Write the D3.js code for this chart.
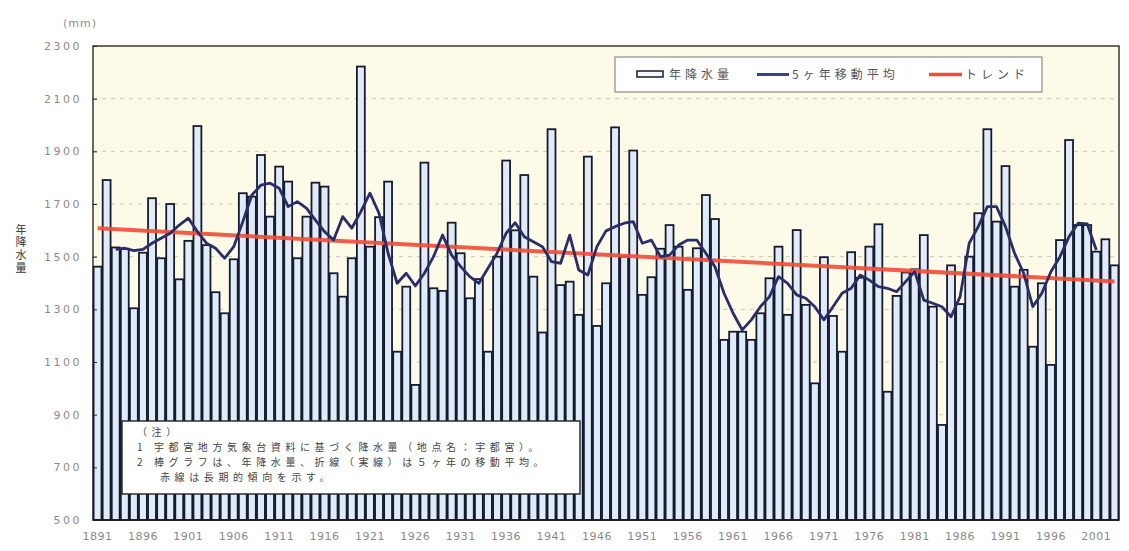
<!DOCTYPE html>
<html><head><meta charset="utf-8">
<script src="https://cdn.jsdelivr.net/npm/d3@7"></script>
<style>
html,body{margin:0;padding:0;background:#fff;}
svg{display:block;}
</style></head><body>
<svg id="chart" width="1129" height="551"></svg>
<script>
// ---- data ----
const years = [1891,1892,1893,1894,1895,1896,1897,1898,1899,1900,
1901,1902,1903,1904,1905,1906,1907,1908,1909,1910,
1911,1912,1913,1914,1915,1916,1917,1918,1919,1920,
1921,1922,1923,1924,1925,1926,1927,1928,1929,1930,
1931,1932,1933,1934,1935,1936,1937,1938,1939,1940,
1941,1942,1943,1944,1945,1946,1947,1948,1949,1950,
1951,1952,1953,1954,1955,1956,1957,1958,1959,1960,
1961,1962,1963,1964,1965,1966,1967,1968,1969,1970,
1971,1972,1973,1974,1975,1976,1977,1978,1979,1980,
1981,1982,1983,1984,1985,1986,1987,1988,1989,1990,
1991,1992,1993,1994,1995,1996,1997,1998,1999,2000,
2001,2002,2003];

// annual precipitation (mm)
const precipitation = [1462,1791,1535,1530,1304,1515,1722,1494,1700,1414,
1560,1996,1544,1365,1285,1490,1741,1728,1886,1652,
1842,1785,1494,1652,1781,1766,1437,1348,1494,2222,
1538,1650,1785,1139,1386,1013,1857,1380,1370,1629,
1513,1342,1415,1139,1500,1865,1600,1810,1424,1212,
1984,1392,1405,1279,1880,1237,1399,1991,1500,1903,
1355,1422,1530,1620,1538,1374,1532,1734,1643,1184,
1215,1215,1184,1285,1418,1538,1279,1601,1317,1019,
1498,1275,1139,1517,1420,1538,1623,987,1351,1440,
1452,1582,1310,861,1467,1320,1500,1665,1984,1633,
1844,1386,1450,1158,1399,1089,1563,1943,1620,1620,
1519,1566,1467];

// 5-year moving average (mm); null where not drawn
const movingAverage = [null,null,1528,1532,1523,1528,1551,1570,1589,1620,
1646,1595,1551,1532,1494,1538,1633,1734,1772,1779,
1760,1690,1709,1684,1639,1595,1563,1652,1608,1671,
1741,1665,1513,1399,1437,1389,1437,1500,1582,1506,
1462,1424,1399,1456,1513,1589,1629,1576,1557,1538,
1481,1475,1582,1449,1430,1538,1598,1614,1627,1633,
1551,1563,1500,1506,1544,1563,1563,1513,1462,1361,
1285,1222,1260,1310,1348,1424,1399,1355,1342,1310,
1260,1310,1361,1380,1430,1411,1386,1380,1367,1405,
1443,1335,1323,1310,1272,1348,1551,1614,1690,1690,
1614,1513,1437,1310,1361,1443,1500,1576,1627,1624,
1525,null,null];

const trendYears = [1891, 2003];
const trendValues = [1608, 1406];

const xTickLabels = ["1891","1896","1901","1906","1911","1916","1921","1926","1931","1936","1941","1946","1951","1956","1961","1966","1971","1976","1981","1986","1991","1996","2001"];
const yTicks = [500,700,900,1100,1300,1500,1700,1900,2100,2300];
const gridTicks = [700,900,1100,1300,1500,1700,1900,2100];

const legendLabels = ["年降水量","5ヶ年移動平均","トレンド"];
const unitLabel = "(mm)";
const yTitle = "年降水量";
const noteLines = ["（注）",
  "1 宇都宮地方気象台資料に基づく降水量（地点名：宇都宮）。",
  "2 棒グラフは、年降水量、折線（実線）は５ヶ年の移動平均。",
  "赤線は長期的傾向を示す。"];

// ---- layout ----
const L = 93, R = 1119, T = 46, B = 520;
const svg = d3.select("#chart");
const numFont = "'DejaVu Sans', sans-serif";
const jpFont = "'Noto Sans CJK JP', sans-serif";

const x = d3.scaleBand().domain(years).range([L, R]).paddingInner(0.13).paddingOuter(0.065);
const y = d3.scaleLinear().domain([500, 2300]).range([B, T]);
const cx = yr => x(yr) + x.bandwidth() / 2;

// plot background
svg.append("rect").attr("x", L).attr("y", T).attr("width", R - L).attr("height", B - T)
  .attr("fill", "#fdfbe8");

// grid
svg.append("g").selectAll("line").data(gridTicks).join("line")
  .attr("x1", L).attr("x2", R).attr("y1", d => y(d)).attr("y2", d => y(d))
  .attr("stroke", "#c9c7b6").attr("stroke-width", 1).attr("stroke-dasharray", "4,5");

// bars
svg.append("g").selectAll("rect").data(years.map((yr, i) => ({yr, v: precipitation[i]}))).join("rect")
  .attr("x", d => x(d.yr)).attr("width", x.bandwidth())
  .attr("y", d => y(d.v)).attr("height", d => B - y(d.v))
  .attr("fill", "#e0ebf7").attr("stroke", "#141b30").attr("stroke-width", 1.8);

// trend
const trendData = trendYears.map((yr, i) => ({yr, v: trendValues[i]}));
svg.append("path").datum(trendData)
  .attr("d", d3.line().x(d => cx(d.yr)).y(d => y(d.v)))
  .attr("fill", "none").attr("stroke", "#ef4f3b").attr("stroke-width", 4).attr("stroke-opacity", 0.92);

// moving average
const maData = years.map((yr, i) => ({yr, v: movingAverage[i]}));
svg.append("path").datum(maData)
  .attr("d", d3.line().defined(d => d.v != null).x(d => cx(d.yr)).y(d => y(d.v)))
  .attr("fill", "none").attr("stroke", "#2a2d6a").attr("stroke-width", 2.8)
  .attr("stroke-linejoin", "round");

// frame
svg.append("rect").attr("x", L).attr("y", T).attr("width", R - L).attr("height", B - T)
  .attr("fill", "none").attr("stroke", "#1a1a1a").attr("stroke-width", 1.3);

// y axis
const yAxis = svg.append("g").attr("transform", `translate(${L},0)`)
  .call(d3.axisLeft(y).tickValues(yTicks).tickSizeInner(-4).tickSizeOuter(0).tickPadding(11).tickFormat(d3.format("d")));
yAxis.select(".domain").remove();
yAxis.selectAll("line").attr("stroke", "#222");
yAxis.selectAll("text").attr("font-family", numFont).attr("font-size", 11)
  .attr("fill", "#8a8a8a").attr("letter-spacing", "2.5px");

// x axis
const xAxis = svg.append("g").attr("transform", `translate(0,${B})`)
  .call(d3.axisBottom(x).tickValues(xTickLabels.map(Number)).tickSize(0).tickPadding(12));
xAxis.select(".domain").remove();
xAxis.selectAll("text").attr("font-family", numFont).attr("font-size", 11)
  .attr("fill", "#8a8a8a").attr("letter-spacing", "0.5px");

// unit label
svg.append("text").attr("x", 63).attr("y", 27).text(unitLabel)
  .attr("font-family", numFont).attr("font-size", 11).attr("fill", "#8a8a8a").attr("letter-spacing", "1px");

// y title (vertical writing)
svg.append("text").attr("x", 21).attr("y", 224)
  .style("writing-mode", "vertical-rl").style("text-orientation", "upright")
  .attr("font-family", jpFont).attr("font-size", 11).attr("letter-spacing", "1.7px")
  .attr("fill", "#333").text(yTitle);

// legend
const lg = svg.append("g");
lg.append("rect").attr("x", 615).attr("y", 57).attr("width", 427).attr("height", 35)
  .attr("fill", "#ffffff").attr("stroke", "#777").attr("stroke-width", 1);
lg.append("rect").attr("x", 637).attr("y", 71).attr("width", 26).attr("height", 6)
  .attr("fill", "#f4f8fc").attr("stroke", "#161d33").attr("stroke-width", 1.5);
lg.append("line").attr("x1", 757).attr("x2", 789).attr("y1", 74.5).attr("y2", 74.5)
  .attr("stroke", "#3d3f8c").attr("stroke-width", 3);
lg.append("line").attr("x1", 929).attr("x2", 962).attr("y1", 74.5).attr("y2", 74.5)
  .attr("stroke", "#ef4f3b").attr("stroke-width", 3.5);
const legendX = [669, 792, 965];
lg.selectAll("text.lt").data(legendLabels).join("text").attr("class", "lt")
  .attr("x", (d, i) => legendX[i]).attr("y", 79)
  .attr("font-family", jpFont).attr("font-size", 12).attr("fill", "#555")
  .attr("letter-spacing", "4px").text(d => d);

// note box
const nb = svg.append("g");
nb.append("rect").attr("x", 122).attr("y", 421).attr("width", 458).attr("height", 73)
  .attr("fill", "#ffffff").attr("stroke", "#222").attr("stroke-width", 1.4);
const noteX = [137, 137, 137, 160];
const noteY = [436, 451, 466, 481];
nb.selectAll("text").data(noteLines).join("text")
  .attr("x", (d, i) => noteX[i]).attr("y", (d, i) => noteY[i])
  .attr("font-family", jpFont).attr("font-size", 10).attr("fill", "#444")
  .attr("letter-spacing", "4.6px").text(d => d);
</script>
</body></html>
